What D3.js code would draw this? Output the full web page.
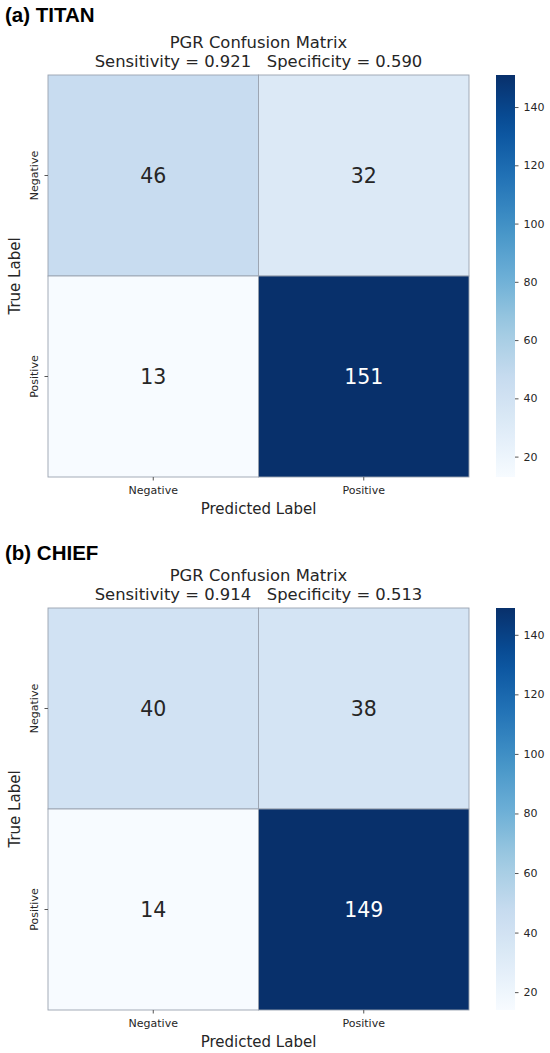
<!DOCTYPE html>
<html>
<head>
<meta charset="utf-8">
<script src="https://cdn.jsdelivr.net/npm/d3@7"></script>
<style>
  body { margin: 0; background: #fff; }
  svg { display: block; }
  text { font-family: "DejaVu Sans", sans-serif; fill: #262626; }
  .panel-tag { font-family: "Liberation Sans", Arial, sans-serif; font-weight: bold; fill: #000; }
  .tick text { fill: #262626; }
</style>
</head>
<body>
<div class="canvas"></div>
<script>
// data
var categories = ["Negative", "Positive"];
var panelTags = ["(a) TITAN", "(b) CHIEF"];
var titanMatrix = [[46, 32], [13, 151]];
var chiefMatrix = [[40, 38], [14, 149]];
var sensitivities = ["0.921", "0.914"];
var specificities = ["0.590", "0.513"];
var cbarTicks = [20, 40, 60, 80, 100, 120, 140];
var bluesColors = ["#f7fbff", "#deebf7", "#c6dbef", "#9ecae1", "#6baed6", "#4292c6", "#2171b5", "#08519c", "#08306b"];

var width = 550, height = 1053;

var svg = d3.select(".canvas").append("svg")
  .attr("width", width)
  .attr("height", height);

var defs = svg.append("defs");

var left = 48, right = 469, hmHeight = 402;
var cbX = 496, cbW = 19;

function drawPanel(i, matrix, top0, tagY) {
  var g = svg.append("g");
  var hmTop = top0 + 75;

  // panel tag
  g.append("text")
    .attr("class", "panel-tag")
    .attr("x", 5)
    .attr("y", tagY)
    .style("font-size", "20.5px")
    .text(panelTags[i]);

  // title lines
  var cx = (left + right) / 2;
  g.append("text")
    .attr("x", cx).attr("y", top0 + 48)
    .attr("text-anchor", "middle")
    .style("font-size", "16.4px")
    .text("PGR Confusion Matrix");
  g.append("text")
    .attr("x", cx).attr("y", top0 + 67)
    .attr("text-anchor", "middle")
    .style("font-size", "16.4px")
    .text("Sensitivity = " + sensitivities[i] + "\u00a0\u00a0\u00a0Specificity = " + specificities[i]);

  var flat = d3.merge(matrix);
  var vmin = d3.min(flat), vmax = d3.max(flat);

  var color = d3.scaleLinear()
    .domain(d3.range(bluesColors.length).map(function(k) { return vmin + (vmax - vmin) * k / (bluesColors.length - 1); }))
    .range(bluesColors)
    .interpolate(d3.interpolateRgb);

  var x = d3.scaleBand().domain(categories).range([left, right]);
  var y = d3.scaleBand().domain(categories).range([hmTop, hmTop + hmHeight]);

  var cells = [];
  matrix.forEach(function(row, r) {
    row.forEach(function(v, c) {
      cells.push({ t: categories[r], p: categories[c], v: v });
    });
  });

  g.selectAll(".cell").data(cells).enter().append("rect")
    .attr("class", "cell")
    .attr("x", function(d) { return x(d.p); })
    .attr("y", function(d) { return y(d.t); })
    .attr("width", x.bandwidth())
    .attr("height", y.bandwidth())
    .style("fill", function(d) { return color(d.v); })
    .style("stroke", "#9aa3b0")
    .style("stroke-width", 0.9);

  g.selectAll(".ann").data(cells).enter().append("text")
    .attr("class", "ann")
    .attr("x", function(d) { return x(d.p) + x.bandwidth() / 2; })
    .attr("y", function(d) { return y(d.t) + y.bandwidth() / 2; })
    .attr("text-anchor", "middle")
    .attr("dominant-baseline", "central")
    .style("font-size", "20.5px")
    .style("fill", function(d) {
      var lum = d3.hsl(color(d.v)).l;
      return lum < 0.45 ? "#ffffff" : "#262626";
    })
    .text(function(d) { return d.v; });

  // x axis
  var xAxis = g.append("g")
    .attr("transform", "translate(0," + (hmTop + hmHeight) + ")")
    .call(d3.axisBottom(x).tickSize(3.5).tickPadding(5.5));
  xAxis.select(".domain").remove();
  xAxis.selectAll(".tick line").style("stroke", "#555");
  xAxis.selectAll("text").style("font-size", "11px").style("font-family", "DejaVu Sans");

  g.append("text")
    .attr("x", cx)
    .attr("y", hmTop + hmHeight + 36.5)
    .attr("text-anchor", "middle")
    .style("font-size", "15px")
    .text("Predicted Label");

  // y axis
  var yAxis = g.append("g")
    .attr("transform", "translate(" + left + ",0)")
    .call(d3.axisLeft(y).tickSize(3.5).tickPadding(4));
  yAxis.select(".domain").remove();
  yAxis.selectAll(".tick line").style("stroke", "#555");
  yAxis.selectAll("text")
    .style("font-size", "11px")
    .style("font-family", "DejaVu Sans")
    .attr("text-anchor", "middle")
    .attr("transform", "rotate(-90)")
    .attr("x", 0)
    .attr("y", -10)
    .attr("dy", "0");

  g.append("text")
    .attr("transform", "translate(20," + (hmTop + hmHeight / 2) + ") rotate(-90)")
    .attr("text-anchor", "middle")
    .style("font-size", "15px")
    .text("True Label");

  // colorbar
  var gid = "cbar" + i;
  var grad = defs.append("linearGradient")
    .attr("id", gid)
    .attr("x1", 0).attr("y1", 1).attr("x2", 0).attr("y2", 0);
  grad.selectAll("stop").data(d3.range(0, 1.0001, 0.05)).enter().append("stop")
    .attr("offset", function(t) { return t; })
    .attr("stop-color", function(t) { return color(vmin + (vmax - vmin) * t); });

  g.append("rect")
    .attr("x", cbX).attr("y", hmTop)
    .attr("width", cbW).attr("height", hmHeight)
    .style("fill", "url(#" + gid + ")");

  var cbScale = d3.scaleLinear().domain([vmin, vmax]).range([hmTop + hmHeight, hmTop]);
  var cbAxis = g.append("g")
    .attr("transform", "translate(" + (cbX + cbW) + ",0)")
    .call(d3.axisRight(cbScale).tickValues(cbarTicks).tickSize(3.5).tickPadding(5));
  cbAxis.select(".domain").remove();
  cbAxis.selectAll(".tick line").style("stroke", "#555");
  cbAxis.selectAll("text").style("font-size", "11px").style("font-family", "DejaVu Sans");
}

drawPanel(0, titanMatrix, 0, 22);
drawPanel(1, chiefMatrix, 533, 560);
</script>
</body>
</html>
